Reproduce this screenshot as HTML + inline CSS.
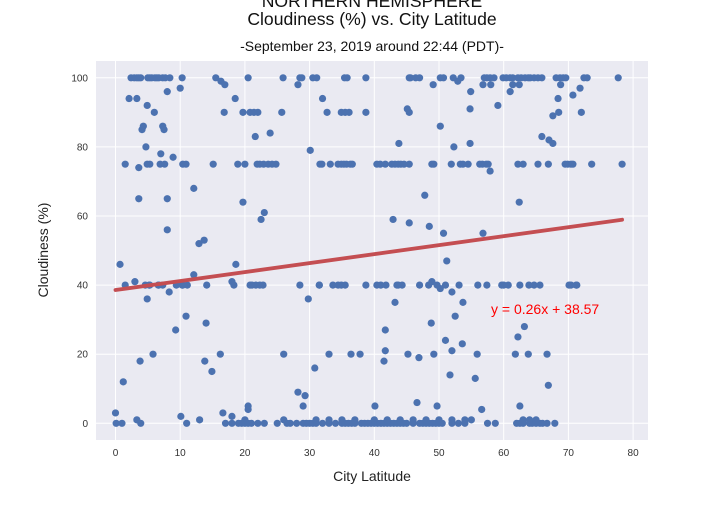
<!DOCTYPE html>
<html><head><meta charset="utf-8"><style>
body{margin:0;background:#fff;}
svg text{font-family:"Liberation Sans",sans-serif;}
</style></head><body>
<svg id="chart" width="720" height="504" xmlns="http://www.w3.org/2000/svg">
<text x="372" y="7" text-anchor="middle" font-size="17.6" fill="#111">NORTHERN HEMISPHERE</text>
<text x="372" y="25" text-anchor="middle" font-size="17.6" fill="#111">Cloudiness (%) vs. City Latitude</text>
<text x="372" y="51" text-anchor="middle" font-size="14" fill="#111">-September 23, 2019 around 22:44 (PDT)-</text>
<rect x="96" y="61" width="552" height="379" fill="#eaeaf2"/>
<g id="grid"></g>
<g id="ticks"></g>
<g id="points"></g>
<g id="reg"></g>
<text x="372" y="481" text-anchor="middle" font-size="14" fill="#222">City Latitude</text>
<text transform="translate(48,250) rotate(-90)" text-anchor="middle" font-size="14" fill="#222">Cloudiness (%)</text>
</svg>
<script>
const xTicks=[0,10,20,30,40,50,60,70,80];
const yTicks=[0,20,40,60,80,100];
const regSlope=0.26;
const regIntercept=38.57;
const regLabel="y = 0.26x + 38.57";
const lats=[2.4,2.9,3.3,3.6,3.9,5.0,5.3,5.6,6.1,6.4,6.7,7.3,7.7,8.4,10.3,15.5,20.5,25.9,28.5,28.8,30.5,31.1,35.4,35.8,38.7,45.4,45.6,46.4,47.0,50.2,50.7,52.2,53.4,57.0,57.4,57.9,58.5,59.9,60.4,61.0,61.4,62.2,62.7,63.3,63.8,64.1,64.7,65.3,65.9,68.1,68.7,69.2,69.6,72.4,72.9,77.7,
1.5,4.9,5.3,6.9,7.6,10.4,10.9,15.1,18.9,20.0,21.9,22.3,22.9,23.6,24.2,24.8,31.6,31.9,33.2,34.4,34.9,35.3,35.7,36.3,36.6,40.4,40.9,41.7,42.7,43.2,43.7,44.1,44.6,45.4,48.9,49.2,51.9,53.3,53.7,54.5,56.3,56.7,57.3,57.6,62.2,63.0,65.3,66.9,69.5,69.9,70.4,70.7,73.6,78.3,
1.5,4.6,5.2,5.3,6.6,7.3,9.4,10.3,10.4,11.1,14.1,18.3,21.1,21.7,22.8,28.5,31.5,34.4,35.5,38.7,40.4,41.0,41.8,43.5,43.7,44.3,47.0,48.4,49.7,51.0,53.1,56.0,57.4,60.0,60.7,62.5,64.7,65.6,70.1,70.4,71.3,59.7,63.9,71.2,20.8,22.3,31.5,33.6,34.9,
0.1,1,3.9,11,17,18,19,19.5,20,20.5,21,22,23,25,26.5,27,28,29,29.5,30,30.5,31,32,33,34,35,35.5,36,36.5,37,38,38.5,39,39.5,40,40.5,41,41.5,42,42.5,43,43.5,44,44.5,45,46,47,47.5,48,48.5,49,49.5,50,50.5,52,53,54,57.5,58.7,62,62.5,63,64,64.4,65,65.6,66,66.7,67.9,
13,20,26,31,33,35,37,40,42,44,46,48,50,52,54,55,63,64,65,
2.1,3.3,4.9,6.0,8.0,10,16.3,16.9,18.5,16.8,19.7,20.8,21.4,22.0,25.7,28.2,32,32.7,34.9,35.5,36.1,38.7,4.3,4.1,7.3,7.5,21.6,23.9,4.7,7.0,8.9,30.1,3.6,12.1,3.6,8,19.7,23,22.5,8,12.9,13.7,
49.1,52.9,54.9,56.8,58.0,61.4,62.4,61,68.8,70.7,71.8,68.4,59.1,45.1,45.4,54.8,67.6,68.5,72,50.2,43.8,52.3,54.8,65.9,67.0,67.6,57.9,47.8,62.4,42.9,45.4,48.5,50.7,56.8,
0.7,3.0,6.7,4.9,8.3,12.1,18.6,18.0,29.8,10.9,9.3,14.0,3.8,1.2,13.8,14.9,16.2,5.8,26.0,30.8,28.2,29.3,29.0,20.5,20.5,0,10.1,16.6,18,3.3,33.0,36.4,37.8,
51.2,48.9,50.2,52.0,43.2,53.7,52.5,48.8,41.7,51,52,53.6,41.7,41.5,45.2,46.9,49.2,55.9,61.8,63.8,66.7,62.2,63.2,51.7,55.6,66.9,46.6,40.1,49.7,56.6,62.5];
const clouds=[100,100,100,100,100,100,100,100,100,100,100,100,100,100,100,100,100,100,100,100,100,100,100,100,100,100,100,100,100,100,100,100,100,100,100,100,100,100,100,100,100,100,100,100,100,100,100,100,100,100,100,100,100,100,100,100,
75,75,75,75,75,75,75,75,75,75,75,75,75,75,75,75,75,75,75,75,75,75,75,75,75,75,75,75,75,75,75,75,75,75,75,75,75,75,75,75,75,75,75,75,75,75,75,75,75,75,75,75,75,75,
40,40,40,40,40,40,40,40,40,40,40,40,40,40,40,40,40,40,40,40,40,40,40,40,40,40,40,40,40,40,40,40,40,40,40,40,40,40,40,40,40,40,40,40,40,40,40,40,40,
0,0,0,0,0,0,0,0,0,0,0,0,0,0,0,0,0,0,0,0,0,0,0,0,0,0,0,0,0,0,0,0,0,0,0,0,0,0,0,0,0,0,0,0,0,0,0,0,0,0,0,0,0,0,0,0,0,0,0,0,0,0,0,0,0,0,0,0,0,
1,1,1,1,1,1,1,1,1,1,1,1,1,1,1,1,1,1,1,
94,94,92,90,96,97,99,98,94,90,90,90,90,90,90,98,94,90,90,90,90,90,86,85,86,85,83,84,80,78,77,79,74,68,65,65,64,61,59,56,52,53,
98,99,96,98,98,98,98,96,98,95,97,94,92,91,90,91,89,90,90,86,81,80,81,83,82,81,73,66,64,59,58,57,55,55,
46,41,40,36,38,43,46,41,36,31,27,29,18,12,18,15,20,20,20,16,9,8,5,5,4,3,2,3,2,1,20,20,20,
47,41,39,38,35,35,31,29,27,24,21,23,21,18,20,19,20,20,20,20,20,25,28,14,13,11,6,5,5,4,5];
const X0=115.5,XS=6.47,Y0=423.3,YS=3.455;
const xs=v=>X0+v*XS, ys=v=>Y0-v*YS;
const NS="http://www.w3.org/2000/svg";
const grid=document.getElementById('grid'),ticks=document.getElementById('ticks');
function mk(t,a,p){const e=document.createElementNS(NS,t);for(const k in a)e.setAttribute(k,a[k]);p.appendChild(e);return e;}
xTicks.forEach(v=>{
 const l=mk('line',{x1:xs(v),x2:xs(v),y1:61,y2:440,stroke:'#fff','stroke-width':1},grid);
 
 
 const t=mk('text',{x:xs(v),y:456,'text-anchor':'middle','font-size':10,fill:'#333'},ticks);
 
 
 t.textContent=v;
});
yTicks.forEach(v=>{
 const l=mk('line',{x1:96,x2:648,y1:ys(v),y2:ys(v),stroke:'#fff','stroke-width':1},grid);
 
 
 const t=mk('text',{x:88,y:ys(v)+3.5,'text-anchor':'end','font-size':10,fill:'#333'},ticks);
 
 
 t.textContent=v;
});
const pts=document.getElementById('points');
lats.forEach((la,i)=>{
 const c=mk('circle',{cx:xs(la),cy:ys(clouds[i]),r:3.6,fill:'#4c72b0'},pts);
 
 
});
const reg=document.getElementById('reg');
const mn=Math.min(...lats),mx=Math.max(...lats);
const rl=mk('line',{x1:xs(mn),y1:ys(regSlope*mn+regIntercept),x2:xs(mx),y2:ys(regSlope*mx+regIntercept),stroke:'#c44e52','stroke-width':3.8,'stroke-linecap':'round'},reg);


const rt=mk('text',{x:491,y:314,'font-size':14,fill:'red'},reg);


rt.textContent=regLabel;
</script>
</body></html>
